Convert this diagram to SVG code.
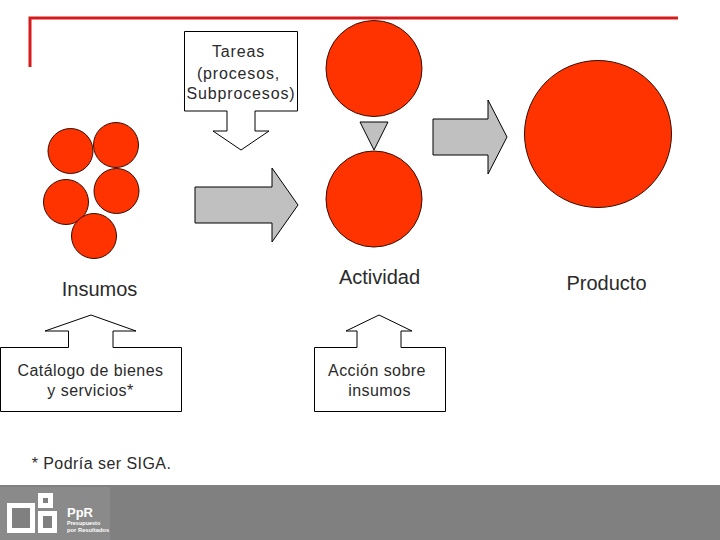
<svg xmlns="http://www.w3.org/2000/svg" width="720" height="540" viewBox="0 0 720 540">
<style>
.c{fill:#ff3300;stroke:#3a0a00;stroke-width:1}
.g{fill:#c0c0c0;stroke:#000;stroke-width:1}
.w{fill:#fff;stroke:#000;stroke-width:1}
text{font-family:"Liberation Sans",Arial,sans-serif;fill:#2a2a2a}
.s{font-size:16px;letter-spacing:.45px;text-anchor:middle}
.t{font-size:16px;letter-spacing:.85px;text-anchor:middle}
.b{font-size:20px;text-anchor:middle}
.i{fill:#808080;stroke:#fff;stroke-width:5}
.f{fill:#fff;font-weight:bold}
</style>
<rect width="720" height="540" fill="#fff"/>
<g id="frame"><path d="M30 67V18H678" fill="none" stroke="#d41a1a" stroke-width="3"/></g>
<g id="insumos-circles">
<circle class="c" cx="70.500" cy="151" r="22.500"/><circle class="c" cx="116" cy="145" r="22.500"/><circle class="c" cx="66" cy="202" r="22.500"/><circle class="c" cx="116.500" cy="191" r="22.500"/><circle class="c" cx="94" cy="236" r="22.500"/>
</g>
<g id="actividad-top"><circle class="c" cx="374" cy="68.500" r="48"/></g>
<g id="actividad-bottom"><circle class="c" cx="374" cy="199" r="48"/></g>
<g id="producto-circle"><circle class="c" cx="598" cy="134" r="73.500"/></g>
<g id="connectors">
<path class="g" d="M360 122H388L374 150Z"/>
<path class="g" d="M195 187H272V168L298 205L272 242V223H195Z"/>
<path class="g" d="M433 119H488V100L507 137L488 174V155H433Z"/>
</g>
<g id="tareas"><path class="w" d="M184.500 31.500H297.500V111H255V131H269L241 150L213 131H227V111H184.500Z"/>
<text class="t" x="238.500" y="57">Tareas</text><text class="t" x="238.500" y="79">(procesos,</text><text class="t" x="241" y="99">Subprocesos)</text></g>
<g id="catalogo"><path class="w" d="M0.500 347.500H68.500V331H45L91 315L136 331H113V347.500H181.500V411.500H0.500Z"/>
<text class="s" x="90.500" y="376">Catálogo de bienes</text><text class="s" x="90.500" y="396">y servicios*</text></g>
<g id="accion"><path class="w" d="M314.500 347.500H357V331H346L379 315L412 331H401V347.500H445.500V411.500H314.500Z"/>
<text class="s" x="377" y="376">Acción sobre</text><text class="s" x="379.500" y="396">insumos</text></g>
<g id="labels">
<text class="b" x="99.500" y="296">Insumos</text>
<text class="b" x="379.500" y="284">Actividad</text>
<text class="b" x="606.500" y="290">Producto</text>
<text class="s" x="101.500" y="469">* Podría ser SIGA.</text>
</g>
<g id="footer">
<rect y="485" width="720" height="55" fill="#808080"/>
<rect y="487" width="110" height="53" fill="#8a8a8a"/>
<rect class="i" x="9.500" y="505.500" width="23" height="25"/>
<rect class="i" x="40.500" y="495.500" width="10" height="10"/>
<rect class="i" x="40.500" y="513.500" width="14" height="17"/>
<text class="f" x="67" y="517" font-size="13">PpR</text>
<text class="f" x="67" y="525" font-size="5.500">Presupuesto</text>
<text class="f" x="67" y="532" font-size="5.800">por Resultados</text>
</g>
</svg>
